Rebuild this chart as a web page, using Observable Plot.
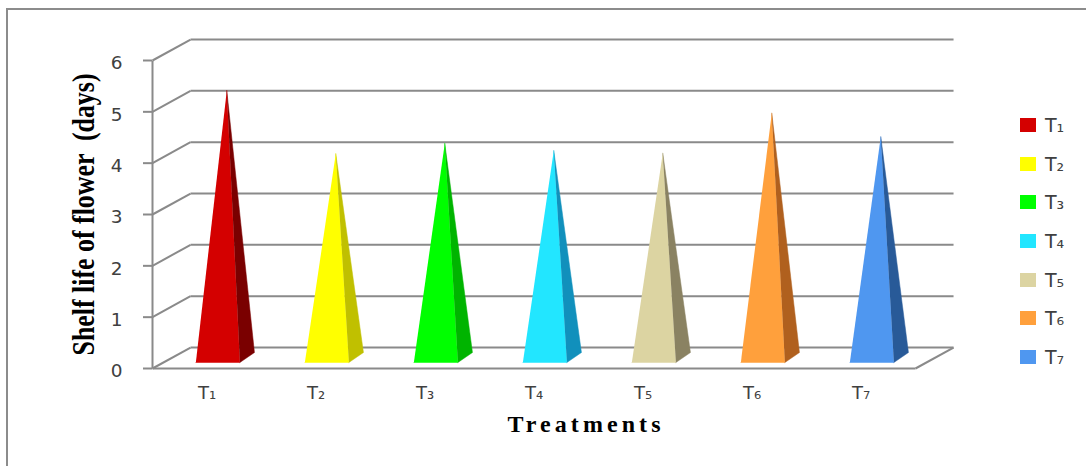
<!DOCTYPE html>
<html><head><meta charset="utf-8">
<script src="https://cdn.jsdelivr.net/npm/d3@7"></script>
<script src="https://cdn.jsdelivr.net/npm/@observablehq/plot@0.6"></script>
<style>
html,body{margin:0;padding:0;background:#fff;}
#wrap{position:relative;width:1086px;height:466px;overflow:hidden;}
#frame{position:absolute;left:6px;top:8px;right:0;bottom:0;border-top:2px solid #8c8c8c;border-left:2px solid #8c8c8c;}
#chart{position:absolute;left:0;top:0;}
#chart svg{display:block;}
#legend{position:absolute;left:1020px;top:105.6px;font-family:"DejaVu Sans",sans-serif;}
.row{display:flex;align-items:center;height:38.7px;}
.sw{width:16px;height:14px;margin-right:9px;}
.lab{font-size:19px;color:#404040;}
</style></head><body>
<div id="wrap"><div id="frame"></div><div id="chart"></div><div id="legend"></div></div>
<script>
// ---- data ----
const categories = ["T₁","T₂","T₃","T₄","T₅","T₆","T₇"];
const shelfLife = [5.2, 3.97, 4.17, 4.03, 3.98, 4.76, 4.3];
const frontColors = ["#d40000","#ffff00","#00ff00","#22e6ff","#dcd4a2","#ffa03c","#4f97f0"];
const sideColors  = ["#7a0000","#c0c000","#00b400","#1190bc","#8a8262","#b0601e","#285a98"];
const yTicks = [0,1,2,3,4,5,6];
const yTitle = "Shelf life of flower  (days)";
const xTitle = "Treatments";

// ---- 3D projection constants (depth offset in data units) ----
const DX = 0.349, DY = 0.409;
const dFront = 0.286, dBack = 0.76, dApex = 0.52, hwFront = 0.202, hwBack = 0.17;
const gridColor = "#8a8a8a", textColor = "#404040";
const xMin = -0.5, xMax = categories.length - 0.5;

// pyramid polygons built from the values
const polys = [];
shelfLife.forEach((v, i) => {
  const fl = {x: i - hwFront + dFront*DX, y: dFront*DY};
  const fr = {x: i + hwFront + dFront*DX, y: dFront*DY};
  const br = {x: i + hwBack + dBack*DX, y: dBack*DY};
  const ap = {x: i + dApex*DX, y: v + dApex*DY};
  [fl, fr, ap].forEach(p => polys.push({...p, id: "f"+i, color: frontColors[i]}));
  [fr, br, ap].forEach(p => polys.push({...p, id: "s"+i, color: sideColors[i]}));
});

const svg = Plot.plot({
  width: 1086, height: 466,
  marginLeft: 152, marginRight: 171, marginTop: 60, marginBottom: 98,
  x: {domain: [xMin, xMax], axis: null},
  y: {domain: [0, 6], axis: null, label: null},
  color: {type: "identity"},
  style: {fontFamily: "DejaVu Sans, sans-serif", background: "transparent", overflow: "visible"},
  marks: [
    // back wall gridlines
    Plot.link(yTicks, {x1: xMin + DX, x2: xMax + DX, y1: d => d + DY, y2: d => d + DY, stroke: gridColor, strokeWidth: 2}),
    // side wall diagonals
    Plot.link(yTicks, {x1: xMin, y1: d => d, x2: xMin + DX, y2: d => d + DY, stroke: gridColor, strokeWidth: 2}),
    // floor: front edge and right diagonal
    Plot.link([0], {x1: xMin, x2: xMax, y1: 0, y2: 0, stroke: gridColor, strokeWidth: 2}),
    Plot.link([0], {x1: xMax, y1: 0, x2: xMax + DX, y2: DY, stroke: gridColor, strokeWidth: 2}),
    // value axis line + ticks
    Plot.link([0], {x1: xMin, x2: xMin, y1: 0, y2: 6, stroke: gridColor, strokeWidth: 2}),
    Plot.axisY({ticks: yTicks, tickSize: 9, tickFormat: () => "", label: null, stroke: gridColor, strokeWidth: 2}),
    Plot.text(yTicks, {y: d => d, frameAnchor: "left", dx: -30, dy: 3, textAnchor: "end", fontSize: 18.5, fill: textColor}),
    // pyramids
    Plot.line(polys, {x: "x", y: "y", z: "id", fill: "color", stroke: "color", strokeWidth: 0.5}),
    // category labels
    Plot.text(categories, {x: (d, i) => i, frameAnchor: "bottom", dy: 30, fontSize: 18, fill: textColor}),
    // axis titles
    Plot.text([yTitle], {frameAnchor: "left", dx: -59, rotate: -90, textAnchor: "middle", lineAnchor: "bottom", fontSize: 32, fontWeight: "bold", fontFamily: "Liberation Serif, serif", fill: "#000"}),
    Plot.text([xTitle], {x: () => 3, frameAnchor: "bottom", dx: 50, dy: 63, textAnchor: "middle", lineAnchor: "bottom", fontSize: 24, fontWeight: "bold", fontFamily: "Liberation Serif, serif", fill: "#000"})
  ]
});
d3.select(svg).selectAll("text").filter(function(){ return this.textContent === yTitle; })
  .attr("textLength", 282).attr("lengthAdjust", "spacingAndGlyphs").style("white-space", "pre");
d3.select(svg).selectAll("text").filter(function(){ return this.textContent === xTitle; })
  .attr("textLength", 153).attr("lengthAdjust", "spacing");
document.getElementById("chart").appendChild(svg);

// legend
const lg = d3.select("#legend");
categories.forEach((c, i) => {
  const r = lg.append("div").attr("class", "row");
  r.append("div").attr("class", "sw").style("background", frontColors[i]);
  r.append("span").attr("class", "lab").text(c);
});
</script>
</body></html>
